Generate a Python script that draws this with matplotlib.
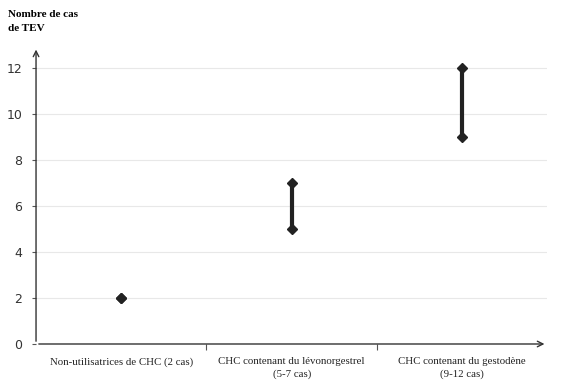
import matplotlib.pyplot as plt

categories = ["Non-utilisatrices de CHC (2 cas)",
              "CHC contenant du lévonorgestrel\n(5-7 cas)",
              "CHC contenant du gestodène\n(9-12 cas)"]
low_cases = [2, 5, 9]
high_cases = [2, 7, 12]
y_ticks = [0, 2, 4, 6, 8, 10, 12]

fig = plt.figure(figsize=(5.63, 3.85), dpi=100)
ax = fig.add_axes([0.064, 0.1065, 0.908, 0.772])

xs = range(len(categories))
for x, lo, hi in zip(xs, low_cases, high_cases):
    ax.plot([x, x], [lo, hi], color="#222222", lw=3, solid_capstyle="butt",
            marker="D", markersize=5.5, zorder=3)

ax.set_xlim(-0.5, 2.5)
ax.set_ylim(0, 12.9)
ax.set_yticks(y_ticks)
ax.set_yticklabels([str(v) for v in y_ticks], fontsize=9, color="#333333")
ax.grid(axis="y", color="#e8e8e8", lw=0.8)
ax.set_axisbelow(True)
ax.tick_params(axis="y", length=3, color="#555555", pad=7)

# category labels centred, ticks between categories
ax.set_xticks([0.5, 1.5])
ax.set_xticklabels([])
ax.tick_params(axis="x", length=4, color="#555555")
for x, lab in zip(xs, categories):
    ax.text(x, -0.045, lab, transform=ax.get_xaxis_transform(), ha="center", va="top",
            fontsize=7.8, family="Liberation Serif", color="#222222", linespacing=1.45)

for s in ax.spines.values():
    s.set_visible(False)
ax.annotate("", xy=(0, 1.0), xytext=(0, 0), xycoords="axes fraction",
            arrowprops=dict(arrowstyle="->", color="#333333", lw=1.0))
ax.annotate("", xy=(1.0, 0), xytext=(0, 0), xycoords="axes fraction",
            arrowprops=dict(arrowstyle="->", color="#333333", lw=1.0))

fig.text(0.014, 0.975, "Nombre de cas\nde TEV", ha="left", va="top", fontsize=8,
         fontweight="bold", family="Liberation Serif", linespacing=1.8)

fig.savefig("out.png", dpi=100)
